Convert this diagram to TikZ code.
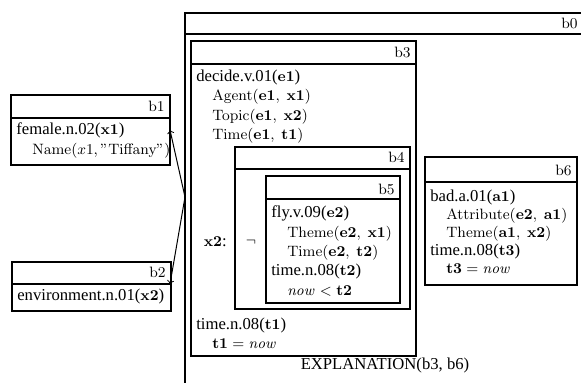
\documentclass[tikz,border=0pt]{standalone}
\usepackage[no-math]{fontspec}
\setmainfont{Liberation Serif}
\usepackage{amsmath}
\DeclareMathSizes{10}{9}{7}{5}
\tikzset{
  box/.style={line width=0.65pt},
  lbl/.style={anchor=base east, inner sep=0pt},
  cond/.style={anchor=base west, inner sep=0pt},
}

\begin{document}
\begin{tikzpicture}[x=0.6pt,y=-0.6pt]
\useasboundingbox (0,0) rectangle (581,383);
\clip (0,0) rectangle (581,383);

% b0
\draw[box] (185,400) -- (185,13) -- (600,13);
\draw[box] (185,34) -- (600,34);
\node[lbl] (b0) at (578,29) {$\mathrm{b0}$};

% b1
\draw[box] (11,95) rectangle (170,165);
\draw[box] (11,118) -- (170,118);
\node[lbl] (b1) at (165,112) {$\mathrm{b1}$};
\node[cond] (female) at (16,135) {female.n.02($\mathbf{x1}$)};
\node[cond] (name) at (32,155) {$\mathrm{Name}(x1,\mathrm{"Tiffany"})$};

% b2
\draw[box] (12,262) rectangle (171,311);
\draw[box] (12,284) -- (171,284);
\node[lbl] (b2) at (166,278) {$\mathrm{b2}$};
\node[cond] (env) at (17,301) {environment.n.01($\mathbf{x2}$)};

% b3
\draw[box] (191,41) rectangle (416,356);
\draw[box] (191,64) -- (416,64);
\node[lbl] (b3) at (411,58) {$\mathrm{b3}$};
\node[cond] (decide) at (196,82) {decide.v.01($\mathbf{e1}$)};
\node[cond] (agent) at (212,101) {$\mathrm{Agent}(\mathbf{e1},\ \mathbf{x1})$};
\node[cond] (topic) at (212,121) {$\mathrm{Topic}(\mathbf{e1},\ \mathbf{x2})$};
\node[cond] (time1) at (212,140) {$\mathrm{Time}(\mathbf{e1},\ \mathbf{t1})$};
\node[cond] (tn1) at (196,330) {time.n.08($\mathbf{t1}$)};
\node[cond] (now1) at (212,349) {$\mathbf{t1} = \mathit{now}$};

% b4
\node[anchor=base east, inner sep=0pt] (x2) at (227,247) {$\mathbf{x2}$:};
\draw[box] (235,147) rectangle (410,309);
\draw[box] (235,169) -- (410,169);
\node[lbl] (b4) at (405,163) {$\mathrm{b4}$};
\node (neg) at (251,242) {$\neg$};

% b5
\draw[box] (266,176) rectangle (400,303);
\draw[box] (266,199) -- (400,199);
\node[lbl] (b5) at (395,195) {$\mathrm{b5}$};
\node[cond] (fly) at (271,218) {fly.v.09($\mathbf{e2}$)};
\node[cond] (theme2) at (287,238) {$\mathrm{Theme}(\mathbf{e2},\ \mathbf{x1})$};
\node[cond] (time2) at (287,257) {$\mathrm{Time}(\mathbf{e2},\ \mathbf{t2})$};
\node[cond] (tn2) at (271,276) {time.n.08($\mathbf{t2}$)};
\node[cond] (now2) at (287,296) {$\mathit{now} < \mathbf{t2}$};

% b6
\draw[box] (425,157) rectangle (577,285);
\draw[box] (425,182) -- (577,182);
\node[lbl] (b6) at (572,176) {$\mathrm{b6}$};
\node[cond] (bad) at (430,202) {bad.a.01($\mathbf{a1}$)};
\node[cond] (attr) at (446,220) {$\mathrm{Attribute}(\mathbf{e2},\ \mathbf{a1})$};
\node[cond] (theme3) at (446,238) {$\mathrm{Theme}(\mathbf{a1},\ \mathbf{x2})$};
\node[cond] (tn3) at (430,256) {time.n.08($\mathbf{t3}$)};
\node[cond] (now3) at (446,274) {$\mathbf{t3} = \mathit{now}$};

\node[anchor=base, inner sep=0pt] (expl) at (385,370) {EXPLANATION(b3, b6)};

% links to b1 and b2
\coordinate (fork) at (185,197);
\coordinate (b1in) at (170,130);
\coordinate (b2in) at (170,284);
\draw[->, semithick] (fork) -- (b1in);
\draw[->, semithick] (fork) -- (b2in);
\end{tikzpicture}
\end{document}
